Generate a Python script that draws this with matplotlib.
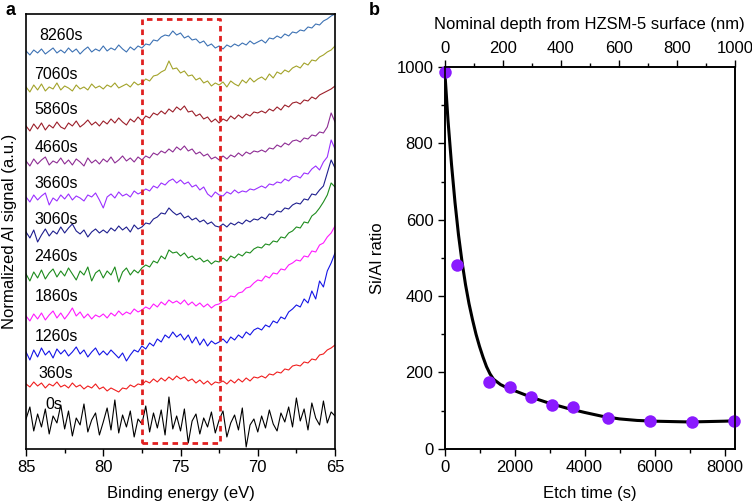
import matplotlib
matplotlib.use("Agg")
import matplotlib.pyplot as plt
import numpy as np
from matplotlib.ticker import MultipleLocator

plt.rcParams['font.family'] = ['Liberation Sans', 'DejaVu Sans']

# ---------------- Panel a data ----------------
energy = np.linspace(85, 65, 81)  # binding energy grid (eV), 0.25 eV step

labels_a = ["8260s", "7060s", "5860s", "4660s", "3660s", "3060s",
            "2460s", "1860s", "1260s", "360s", "0s"]
colors_a = ["#3d72b4", "#a3a32a", "#9c1f2a", "#8e2d94", "#9b30ff", "#1f1f8f",
            "#1e8c1e", "#ff1aff", "#1414e6", "#f01e1e", "#000000"]

s8260 = [398, 394, 399, 396, 400, 395, 398, 401, 396, 399,
         396, 401, 397, 400, 395, 399, 402, 397, 400, 398,
         403, 398, 401, 399, 404, 400, 397, 402, 399, 403,
         401, 405, 404, 409, 408, 412, 414, 413, 418,
         414, 416, 411, 413, 409, 410, 406, 408, 403, 405, 401, 403,
         400, 404, 402, 405, 403, 406, 404, 408, 405, 407,
         409, 406, 411, 410, 413, 411, 415, 413, 417, 416,
         419, 418, 422, 421, 425, 424, 428, 430, 433, 435]
s7060 = [362, 357, 364, 359, 365, 358, 362, 360, 366, 359,
         363, 361, 358, 364, 360, 362, 359, 365, 361, 363,
         360, 364, 362, 366, 361, 363, 365, 362, 367, 364,
         366, 370, 368, 373, 374, 377, 379, 388, 380,
         381, 376, 378, 373, 374, 369, 371, 366, 368, 363, 366, 364,
         367, 362, 368, 365, 363, 369, 366, 371, 367, 370,
         372, 369, 375, 371, 377, 375, 379, 377, 381, 383,
         381, 386, 384, 389, 388, 392, 394, 397, 399, 403]
s5860 = [323, 318, 325, 320, 326, 319, 324, 321, 327, 322,
         320, 326, 323, 328, 322, 325, 329, 324, 327, 323,
         328, 325, 330, 326, 331, 327, 324, 330, 327, 332,
         328, 333, 331, 336, 334, 338, 335, 340, 337,
         342, 339, 343, 337, 338, 333, 335, 330, 332, 327, 330, 326,
         330, 328, 333, 330, 334, 331, 335, 333, 337, 336,
         338, 336, 340, 338, 342, 339, 344, 342, 346, 347,
         345, 349, 348, 352, 350, 354, 356, 358, 360, 363]
s4660 = [288, 283, 290, 285, 289, 292, 284, 288, 286, 291,
         285, 289, 284, 290, 287, 283, 291, 286, 289, 285,
         290, 287, 292, 286, 289, 293, 288, 291, 287, 292,
         289, 293, 291, 296, 294, 298, 296, 300, 297,
         302, 299, 303, 298, 300, 295, 297, 293, 295, 290, 292, 289,
         293, 290, 294, 292, 296, 293, 297, 295, 298, 297,
         299, 297, 301, 300, 304, 302, 306, 304, 308, 309,
         307, 311, 310, 314, 313, 317, 316, 322, 336, 327]
s3660 = [252, 247, 254, 249, 253, 256, 244, 251, 248, 254,
         250, 255, 249, 253, 251, 248, 254, 252, 256, 249,
         241, 252, 255, 251, 257, 253, 255, 252, 258, 255,
         257, 260, 258, 263, 261, 266, 264, 268, 270,
         266, 269, 265, 267, 262, 264, 259, 262, 255, 252, 257, 254,
         253, 257, 255, 259, 256, 258, 257, 260, 259, 261,
         263, 261, 265, 264, 267, 266, 270, 268, 272, 273,
         271, 276, 275, 280, 283, 279, 287, 292, 309, 300]
s3060 = [217, 211, 219, 207, 214, 220, 213, 218, 215, 222,
         216, 221, 225, 218, 215, 219, 212, 217, 220, 216,
         219, 216, 221, 218, 223, 219, 222, 217, 224, 220,
         222, 226, 225, 230, 232, 236, 235, 241, 237,
         234, 236, 231, 233, 229, 231, 227, 229, 225, 227, 223, 222,
         225, 222, 226, 224, 227, 225, 229, 227, 230, 229,
         232, 230, 235, 234, 238, 237, 241, 240, 244, 246,
         245, 250, 249, 255, 254, 259, 263, 276, 289, 281]
s2460 = [175, 168, 177, 171, 179, 170, 176, 180, 172, 178,
         173, 181, 175, 169, 178, 174, 182, 168, 176, 179,
         171, 178, 174, 182, 167, 177, 181, 174, 179, 176,
         181, 184, 182, 188, 186, 193, 190, 199, 196,
         197, 193, 196, 191, 193, 189, 191, 187, 189, 185, 188, 187,
         191, 188, 193, 191, 195, 193, 197, 196, 200, 202,
         201, 205, 204, 208, 207, 212, 211, 216, 218, 222,
         221, 227, 226, 233, 236, 241, 247, 254, 266, 262]
s1860 = [133, 128, 135, 130, 136, 129, 134, 138, 131, 136,
         130, 135, 141, 133, 137, 131, 135, 130, 134, 132,
         135, 131, 136, 133, 138, 134, 137, 135, 140, 137,
         139, 142, 140, 145, 142, 147, 144, 149, 146,
         148, 145, 149, 144, 147, 143, 146, 142, 145, 141, 144, 145,
         148, 149, 153, 152, 156, 157, 161, 162, 166, 169,
         168, 173, 171, 176, 175, 180, 179, 184, 186, 189,
         188, 193, 192, 198, 197, 204, 206, 212, 216, 223]
s1260 = [97, 89, 99, 92, 101, 94, 98, 91, 100, 95,
         99, 93, 97, 102, 95, 99, 92, 97, 101, 94,
         98, 94, 99, 95, 91, 96, 88, 94, 99, 97,
         103, 100, 106, 103, 110, 107, 114, 111, 117,
         112, 115, 109, 114, 106, 112, 104, 110, 103, 108, 105, 107,
         110, 106, 112, 109, 114, 111, 117, 114, 119, 121,
         119, 124, 122, 128, 126, 132, 130, 137, 140, 144,
         142, 150, 146, 158, 150, 168, 162, 178, 186, 196]
s360 = [65, 62, 67, 63, 66, 61, 65, 63, 67, 62,
        64, 61, 66, 62, 64, 60, 63, 61, 65, 60,
        62, 58, 61, 59, 57, 61, 60, 64, 62, 65,
        64, 68, 66, 70, 67, 71, 68, 72, 69,
        73, 70, 72, 68, 70, 66, 69, 65, 68, 64, 67, 66,
        68, 65, 69, 66, 70, 67, 71, 68, 72, 71,
        73, 71, 75, 74, 77, 76, 80, 79, 83, 84,
        83, 87, 86, 90, 89, 94, 95, 99, 101, 104]
s0 = [30, 42, 18, 35, 22, 40, 15, 33, 26, 44,
      20, 38, 13, 31, 24, 45, 17, 29, 36, 14,
      27, 41, 19, 49, 16, 34, 22, 38, 12, 30,
      25, 43, 17, 36, 21, 39, 14, 52, 20,
      33, 18, 40, 6, 28, 35, 15, 31, 22, 37, 16, 29,
      38, 12, 26, 34, 19, 41, 2, 24, 30, 17,
      33, 21, 39, 25, 18, 36, 27, 42, 22, 51,
      28, 40, 19, 46, 31, 24, 48, 26, 37, 33]

spectra = [s8260, s7060, s5860, s4660, s3660, s3060, s2460, s1860, s1260, s360, s0]

# label anchor positions (eV, signal units)
label_x = [84.15, 84.45, 84.45, 84.45, 84.45, 84.45, 84.45, 84.45, 84.45, 84.2, 83.75]
label_y = [413, 374, 339, 301, 265, 229, 192, 152, 112, 75, 44]

# ---------------- Panel b data ----------------
etch_time = [0, 360, 1260, 1860, 2460, 3060, 3660, 4660, 5860, 7060, 8260]
si_al = [988, 481, 175, 162, 136, 114, 110, 81, 73, 71, 73]

fit_t = [0, 100, 200, 300, 400, 500, 600, 700, 800, 900, 1000, 1100, 1200,
         1300, 1400, 1600, 1800, 2000, 2500, 3000, 3500, 4000, 4500, 5000,
         5500, 6000, 6500, 7000, 7500, 8000, 8300]
fit_v = [1000, 860, 745, 645, 560, 490, 430, 380, 338, 300, 268, 240, 215,
         196, 182, 168, 159, 152, 134, 119, 106, 95, 85, 78,
         74, 72, 71, 70, 71, 72, 73]

# ---------------- Figure ----------------
fig = plt.figure(figsize=(7.52, 5.03), dpi=100)

# Panel a
axa = fig.add_axes([0.0346, 0.1074, 0.4109, 0.8648])
for s, c in zip(spectra, colors_a):
    axa.plot(energy, s, color=c, lw=0.8)
for lab, lx, ly in zip(labels_a, label_x, label_y):
    axa.text(lx, ly, lab, fontsize=11.5, ha='left', va='center')
axa.plot([77.5, 72.45, 72.45, 77.5, 77.5], [5.5, 5.5, 429.5, 429.5, 5.5],
         color='#e02020', lw=2, linestyle=(0, (2, 1.6)))
axa.set_xlim(85, 65)
axa.set_ylim(0, 435)
axa.set_yticks([])
axa.xaxis.set_major_locator(MultipleLocator(5))
axa.xaxis.set_minor_locator(MultipleLocator(2.5))
axa.tick_params(axis='x', which='major', direction='out', length=5, width=1,
                labelsize=12, pad=3)
axa.tick_params(axis='x', which='minor', direction='out', length=3, width=1)
axa.set_xlabel("Binding energy (eV)", fontsize=12)
axa.xaxis.set_label_coords(0.5, -0.085)
axa.set_ylabel("Normalized Al signal (a.u.)", fontsize=12)
axa.yaxis.set_label_coords(-0.028, 0.5)
for sp in axa.spines.values():
    sp.set_linewidth(1.2)

# Panel b
axb = fig.add_axes([0.5911, 0.108, 0.3863, 0.7588])
axb.plot(fit_t, fit_v, color='black', lw=2.2, zorder=2)
axb.plot(etch_time, si_al, 'o', color='#8a1aff', markersize=9,
         markeredgewidth=0, zorder=3, clip_on=False)
axb.set_xlim(0, 8300)
axb.set_ylim(0, 1000)
axb.xaxis.set_major_locator(MultipleLocator(2000))
axb.xaxis.set_minor_locator(MultipleLocator(1000))
axb.yaxis.set_major_locator(MultipleLocator(200))
axb.yaxis.set_minor_locator(MultipleLocator(100))
axb.tick_params(axis='both', which='major', direction='out', length=5, width=1,
                labelsize=12, pad=3)
axb.tick_params(axis='both', which='minor', direction='out', length=3, width=1)
axb.set_xlabel("Etch time (s)", fontsize=12)
axb.xaxis.set_label_coords(0.5, -0.098)
axb.set_ylabel("Si/Al ratio", fontsize=12)
axb.yaxis.set_label_coords(-0.205, 0.5)

axt = axb.twiny()
axt.set_xlim(0, 1000)
axt.xaxis.set_major_locator(MultipleLocator(200))
axt.xaxis.set_minor_locator(MultipleLocator(100))
axt.tick_params(axis='x', which='major', direction='out', length=5, width=1,
                labelsize=12, pad=3)
axt.tick_params(axis='x', which='minor', direction='out', length=3, width=1)
axt.set_xlabel("Nominal depth from HZSM-5 surface (nm)", fontsize=12)
axt.xaxis.set_label_coords(0.5, 1.10)
for ax in (axb, axt):
    for sp in ax.spines.values():
        sp.set_linewidth(1.2)

fig.text(0.007, 0.98, "a", fontsize=13, fontweight='bold', va='center', ha='left')
fig.text(0.49, 0.98, "b", fontsize=13, fontweight='bold', va='center', ha='left')

fig.savefig("out.png", dpi=100)
